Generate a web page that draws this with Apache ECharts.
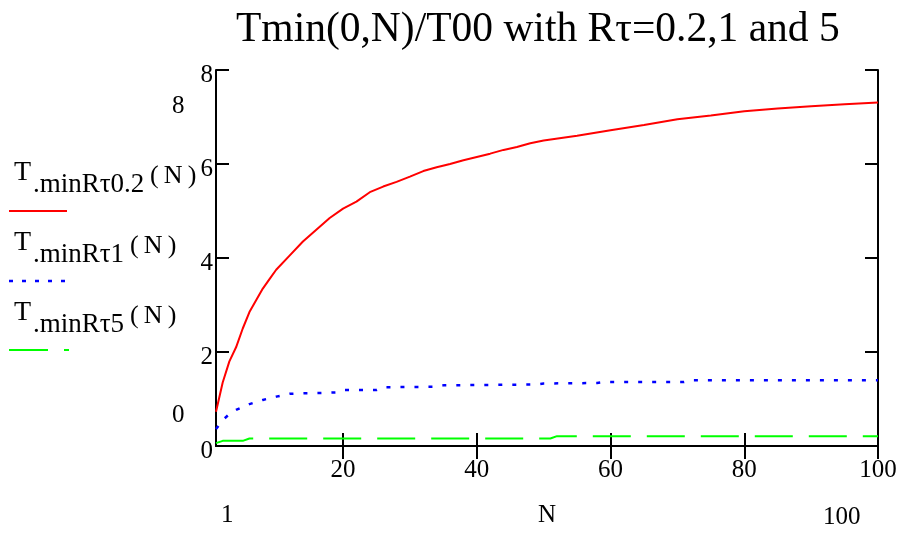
<!DOCTYPE html>
<html>
<head>
<meta charset="utf-8">
<script src="https://cdn.jsdelivr.net/npm/echarts@6/dist/echarts.min.js"></script>
<style>html,body{margin:0;padding:0;background:#fff;}#c{width:906px;height:534px;}</style>
</head>
<body>
<div id="c"></div>
<script>
const FONT = '"Liberation Serif","Times New Roman",serif';
const titleText = 'Tmin(0,N)/T00 with R\u03c4=0.2,1 and 5';
const xTicks = [20, 40, 60, 80, 100];
const yTicks = [0, 2, 4, 6, 8];

const redN   = [1, 2, 3, 4, 5, 6, 7, 8, 9, 10, 12, 14, 16, 18, 20, 22, 24, 26, 28, 30, 32, 34, 36, 38, 40, 42, 44, 46, 48, 50, 55, 60, 65, 70, 75, 80, 85, 90, 95, 100];
const redV   = [0.73, 1.35, 1.8, 2.1, 2.5, 2.85, 3.1, 3.35, 3.55, 3.75, 4.05, 4.35, 4.6, 4.85, 5.05, 5.2, 5.4, 5.52, 5.62, 5.73, 5.85, 5.93, 6.0, 6.08, 6.15, 6.22, 6.3, 6.36, 6.44, 6.5, 6.6, 6.72, 6.83, 6.95, 7.03, 7.12, 7.18, 7.23, 7.27, 7.31];

const blueN  = [1, 2, 3, 4, 6, 8, 10, 12, 14, 17, 19, 20, 25, 26, 34, 35, 49, 50, 58, 59, 71, 72, 100];
const blueV  = [0.36, 0.55, 0.68, 0.77, 0.89, 0.98, 1.05, 1.11, 1.12, 1.13, 1.14, 1.19, 1.19, 1.25, 1.26, 1.29, 1.31, 1.33, 1.34, 1.36, 1.36, 1.40, 1.40];

const greenN = [1, 2, 5, 6, 51, 52, 100];
const greenV = [0.06, 0.11, 0.11, 0.16, 0.16, 0.21, 0.21];

const legendSubs = ['.minR\u03c40.2', '.minR\u03c41', '.minR\u03c45'];
const colors = ['#ff0000', '#0000ff', '#00ff00'];

function pairs(n, v) { return n.map((x, i) => [x, v[i]]); }

const chart = echarts.init(document.getElementById('c'));

const axisLineStyle = { color: '#000', width: 2 };
const tickCommon = { show: true, inside: true, length: 13, lineStyle: { color: '#000', width: 2 } };

const graphics = [];
const legendBase = [183, 253, 323];
const supX = [150, 130, 130];
for (let i = 0; i < 3; i++) {
  const b = legendBase[i];
  graphics.push({ type: 'text', left: 14, top: b - 24, style: { text: 'T', font: '28px ' + FONT, fill: '#000' } });
  graphics.push({ type: 'text', left: 33, top: b - 12, style: { text: legendSubs[i], font: '27px ' + FONT, fill: '#000' } });
  graphics.push({ type: 'text', left: supX[i], top: b - 20, style: { text: '(\u2009N\u2009)', font: '26px ' + FONT, fill: '#000' } });
}
// legend samples
graphics.push({ type: 'line', shape: { x1: 9, y1: 211, x2: 67, y2: 211 }, style: { stroke: colors[0], lineWidth: 2 } });
graphics.push({ type: 'line', shape: { x1: 9, y1: 281, x2: 68, y2: 281 }, style: { stroke: colors[1], lineWidth: 2.5, lineDash: [4, 9] } });
graphics.push({ type: 'line', shape: { x1: 9, y1: 350, x2: 69, y2: 350 }, style: { stroke: colors[2], lineWidth: 2, lineDash: [39, 16] } });
// axis limit labels (Mathcad style)
graphics.push({ type: 'text', left: 172, top: 94, style: { text: '8', font: '25px ' + FONT, fill: '#000' } });
graphics.push({ type: 'text', left: 172, top: 403, style: { text: '0', font: '25px ' + FONT, fill: '#000' } });
graphics.push({ type: 'text', left: 221, top: 503, style: { text: '1', font: '25px ' + FONT, fill: '#000' } });
graphics.push({ type: 'text', left: 538, top: 503, style: { text: 'N', font: '25px ' + FONT, fill: '#000' } });
graphics.push({ type: 'text', left: 823, top: 505, style: { text: '100', font: '25px ' + FONT, fill: '#000' } });

chart.setOption({
  backgroundColor: '#fff',
  animation: false,
  title: {
    text: titleText,
    left: 231, top: 4,
    textStyle: { fontFamily: FONT, fontSize: 41.5, fontWeight: 'normal', color: '#000' }
  },
  grid: { left: 216, right: 28, top: 70, bottom: 88, containLabel: false },
  xAxis: [
    {
      type: 'value', min: 1, max: 100, position: 'bottom',
      axisLine: { show: true, lineStyle: axisLineStyle },
      axisTick: Object.assign({ customValues: xTicks }, tickCommon),
      axisLabel: { customValues: xTicks, fontFamily: FONT, fontSize: 25, color: '#000', margin: 12 },
      splitLine: { show: false }
    },
    {
      type: 'value', min: 1, max: 100, position: 'top',
      axisLine: { show: true, lineStyle: axisLineStyle },
      axisTick: Object.assign({ customValues: xTicks }, tickCommon),
      axisLabel: { show: false },
      splitLine: { show: false }
    }
  ],
  yAxis: [
    {
      type: 'value', min: 0, max: 8, interval: 2, position: 'left',
      axisLine: { show: true, lineStyle: axisLineStyle },
      axisTick: tickCommon,
      axisLabel: { fontFamily: FONT, fontSize: 25, color: '#000', margin: 3, verticalAlign: 'top', lineHeight: 10 },
      splitLine: { show: false }
    },
    {
      type: 'value', min: 0, max: 8, interval: 2, position: 'right',
      axisLine: { show: true, lineStyle: axisLineStyle },
      axisTick: tickCommon,
      axisLabel: { show: false },
      splitLine: { show: false }
    }
  ],
  series: [
    { type: 'line', data: pairs(redN, redV), showSymbol: false, lineStyle: { color: colors[0], width: 2 }, z: 3 },
    { type: 'line', data: pairs(blueN, blueV), showSymbol: false, lineStyle: { color: colors[1], width: 2.5, type: [4, 10] }, z: 3 },
    { type: 'line', data: pairs(greenN, greenV), showSymbol: false, lineStyle: { color: colors[2], width: 2, type: [38, 16] }, z: 3 }
  ],
  graphic: graphics
});
</script>
</body>
</html>
